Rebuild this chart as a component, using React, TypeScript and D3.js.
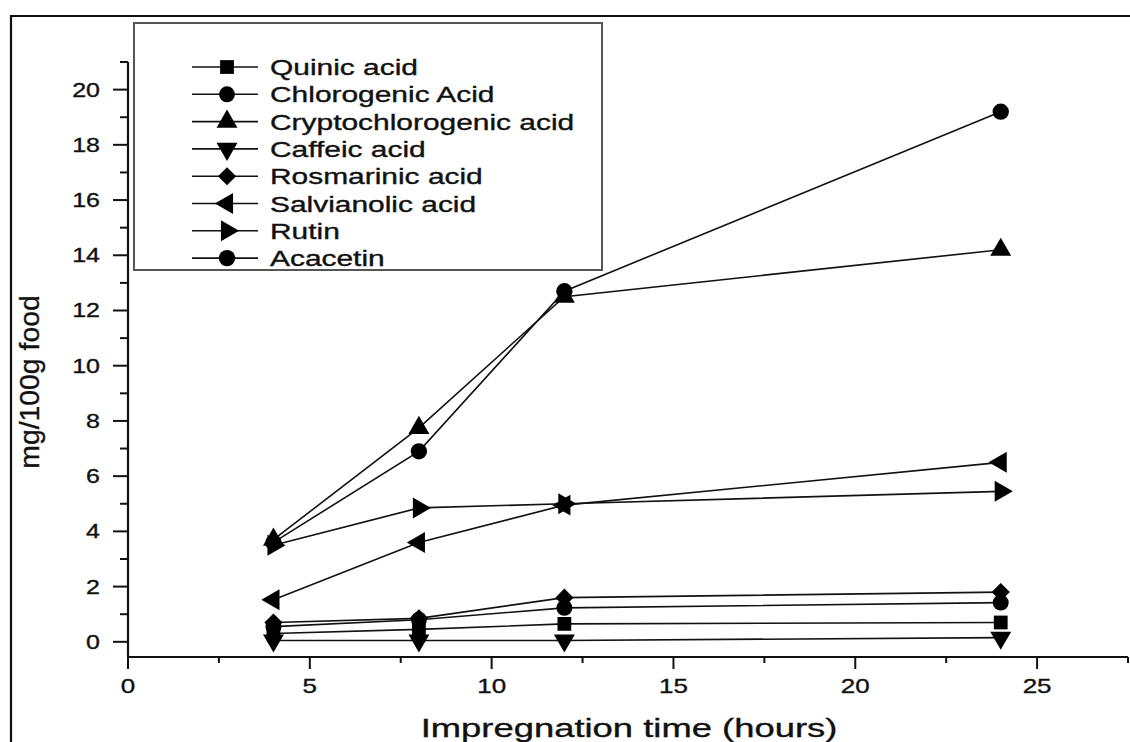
import React from 'react';
import * as d3 from 'd3';

const W = 1130;
const H = 742;

// impregnation times (hours)
const hours = [4, 8, 12, 24];

const quinic = [0.3, 0.45, 0.65, 0.7];
const chlorogenic = [0.55, 0.8, 1.23, 1.42];
const cryptochlorogenic = [3.7, 7.75, 12.5, 14.2];
const caffeic = [0.05, 0.05, 0.05, 0.15];
const rosmarinic = [0.7, 0.85, 1.6, 1.8];
const salvianolic = [1.52, 3.6, 4.95, 6.5];
const rutin = [3.5, 4.85, 5.0, 5.45];
const acacetin = [3.6, 6.9, 12.7, 19.2];

const seriesNames = [
  'Quinic acid',
  'Chlorogenic Acid',
  'Cryptochlorogenic acid',
  'Caffeic acid',
  'Rosmarinic acid',
  'Salvianolic acid',
  'Rutin',
  'Acacetin',
];
const seriesValues = [quinic, chlorogenic, cryptochlorogenic, caffeic, rosmarinic, salvianolic, rutin, acacetin];

// marker per series: symbol type, size, rotation
const markers = [
  { type: d3.symbolSquare, size: 190, rot: 0 },
  { type: d3.symbolCircle, size: 200, rot: 0 },
  { type: d3.symbolTriangle, size: 190, rot: 0 },
  { type: d3.symbolTriangle, size: 190, rot: 180 },
  { type: d3.symbolDiamond2, size: 210, rot: 0 },
  { type: d3.symbolTriangle, size: 190, rot: -90 },
  { type: d3.symbolTriangle, size: 190, rot: 90 },
  { type: d3.symbolCircle, size: 210, rot: 0 },
];

const xMajor = [0, 5, 10, 15, 20, 25];
const xMinor = [2.5, 7.5, 12.5, 17.5, 22.5, 27.5];
const yMajor = [0, 2, 4, 6, 8, 10, 12, 14, 16, 18, 20];
const yMinor = [1, 3, 5, 7, 9, 11, 13, 15, 17, 19, 21];

const FONT = "'Liberation Sans', Arial, sans-serif";

// the source picture is stretched sideways, so text gets a horizontal scale
const SText = ({ x, y, sx = 1.3, size, anchor = 'start', rotate = 0, children }: any) => (
  <text
    transform={`translate(${x},${y}) rotate(${rotate}) scale(${sx},1)`}
    textAnchor={anchor}
    fontSize={size}
    fontFamily={FONT}
    fill="#111"
    stroke="#111"
    strokeWidth={0.35}
  >
    {children}
  </text>
);

export default function App() {
  const x = d3.scaleLinear().domain([0, 27.5]).range([128, 1128]);
  const y = d3.scaleLinear().domain([-0.55, 21]).range([657, 62]);

  const line = d3
    .line<number>()
    .x((_, i) => x(hours[i]))
    .y((d) => y(d));

  const sym = (k: number) => d3.symbol().type(markers[k].type).size(markers[k].size)() as string;

  const legendY = (i: number) => 67 + i * 27.3;

  return (
    <svg width={W} height={H} style={{ position: 'absolute', left: 0, top: 0, background: '#fff' }}>
      <rect x={0} y={0} width={W} height={H} fill="#fff" />
      {/* outer frame */}
      <path d={`M11,${H} L11,16 L${W},16`} fill="none" stroke="#111" strokeWidth={2.2} />

      {/* series lines */}
      {seriesValues.map((vals, k) => (
        <path key={'l' + k} d={line(vals) as string} fill="none" stroke="#111" strokeWidth={1.6} />
      ))}
      {/* markers */}
      {seriesValues.map((vals, k) =>
        vals.map((v, i) => (
          <path
            key={`m${k}-${i}`}
            d={sym(k)}
            transform={`translate(${x(hours[i])},${y(v)}) rotate(${markers[k].rot})`}
            fill="#000"
          />
        ))
      )}

      {/* axes */}
      <line x1={128} x2={128} y1={y(21)} y2={657} stroke="#111" strokeWidth={2.2} />
      <line x1={128} x2={x(27.5)} y1={657} y2={657} stroke="#111" strokeWidth={2.2} />
      {yMajor.map((t) => (
        <g key={'ym' + t}>
          <line x1={113} x2={128} y1={y(t)} y2={y(t)} stroke="#111" strokeWidth={2} />
          <SText x={100} y={y(t) + 7} size={20} sx={1.25} anchor="end">
            {t}
          </SText>
        </g>
      ))}
      {yMinor.map((t) => (
        <line key={'yn' + t} x1={120} x2={128} y1={y(t)} y2={y(t)} stroke="#111" strokeWidth={2} />
      ))}
      {xMajor.map((t) => (
        <g key={'xm' + t}>
          <line x1={x(t)} x2={x(t)} y1={657} y2={669} stroke="#111" strokeWidth={2} />
          <SText x={x(t)} y={693} size={20} sx={1.3} anchor="middle">
            {t}
          </SText>
        </g>
      ))}
      {xMinor.map((t) => (
        <line key={'xn' + t} x1={x(t)} x2={x(t)} y1={657} y2={663} stroke="#111" strokeWidth={2} />
      ))}

      {/* axis titles */}
      <SText x={629} y={737} size={26} sx={1.4} anchor="middle">
        Impregnation time (hours)
      </SText>
      <SText x={39} y={382} size={27} sx={1.05} anchor="middle" rotate={-90}>
        mg/100g food
      </SText>

      {/* legend */}
      <rect x={134} y={23} width={468} height={247} fill="#fff" stroke="#555" strokeWidth={2} />
      {seriesNames.map((name, k) => (
        <g key={'lg' + k}>
          <line x1={192} x2={258} y1={legendY(k)} y2={legendY(k)} stroke="#111" strokeWidth={1.6} />
          <path d={sym(k)} transform={`translate(227,${legendY(k)}) rotate(${markers[k].rot})`} fill="#000" />
          <SText x={270} y={legendY(k) + 8} size={22} sx={1.36}>
            {name}
          </SText>
        </g>
      ))}
    </svg>
  );
}
